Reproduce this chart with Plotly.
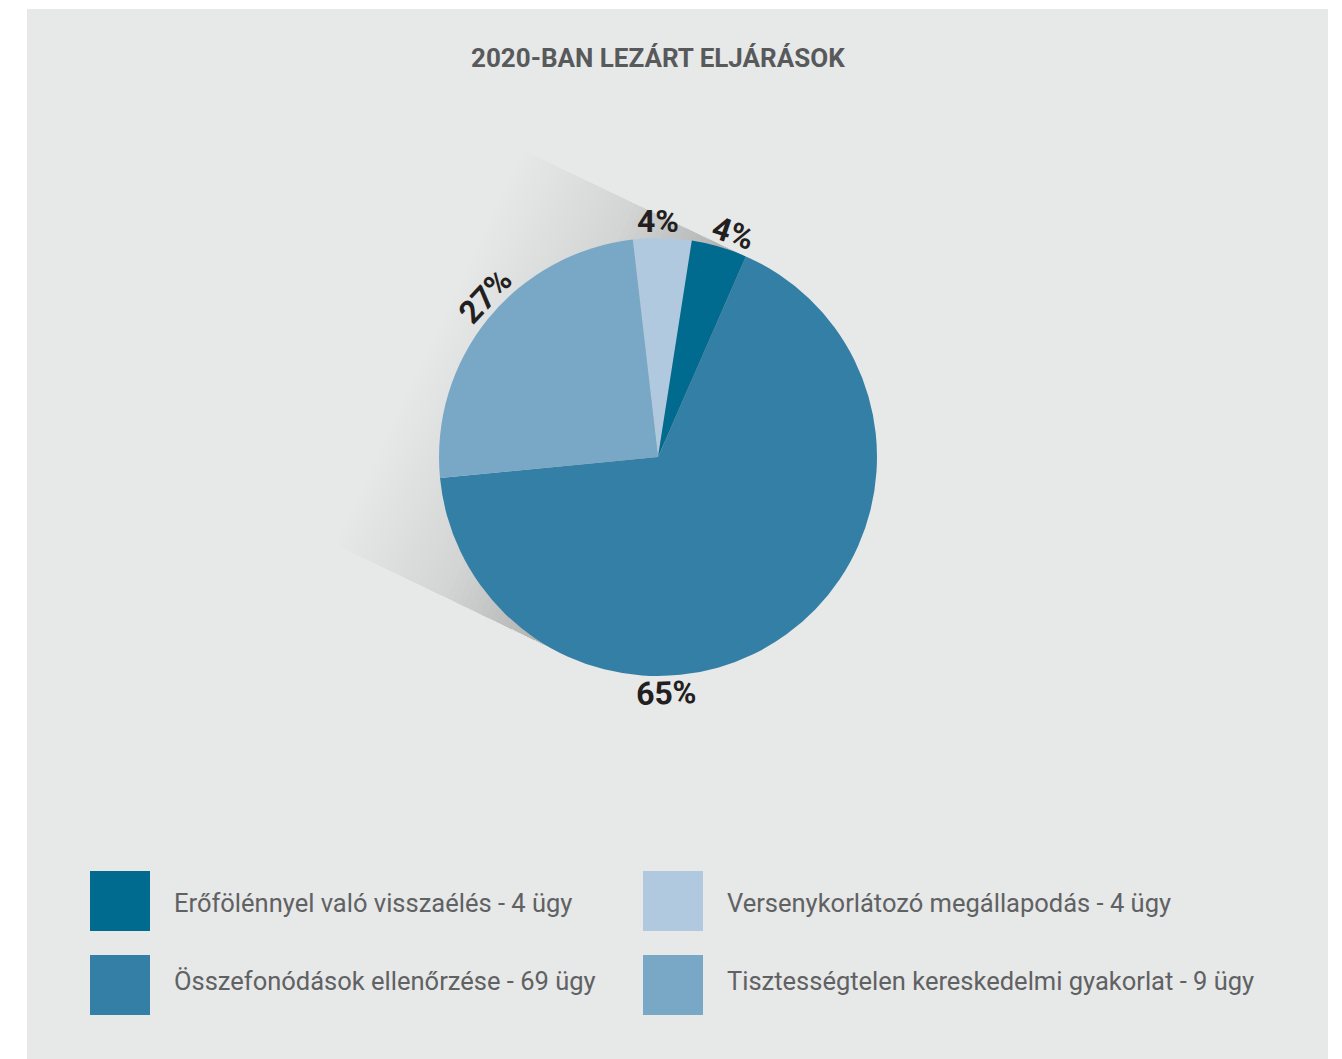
import math
import plotly.graph_objects as go

# ---------------- data ----------------
categories = ["Versenykorlátozó megállapodás", "Erőfölénnyel való visszaélés",
              "Összefonódások ellenőrzése", "Tisztességtelen kereskedelmi gyakorlat"]
slice_share = [4.3, 4.1, 66.9, 24.7]          # slice sizes as drawn (%)
pct_labels = ["4%", "4%", "65%", "27%"]        # printed percentages
case_counts = [4, 4, 69, 9]                    # cases per category
colors = ["#b1c9de", "#006a8f", "#347fa5", "#79a7c6"]
title_text = "2020-BAN LEZÁRT ELJÁRÁSOK"

W, H = 1342, 1059
OFF = 8                      # page body margin
cx, cy, r = 658, 457, 219    # pie centre / radius in page pixels
rotation = -6.6

fig = go.Figure()

# hidden pixel-space axes for decorations (page coordinates)
fig.add_trace(go.Scatter(x=[OFF, W + OFF], y=[OFF, H + OFF], mode="markers",
                         marker=dict(opacity=0), hoverinfo="skip", showlegend=False))

fig.add_trace(go.Pie(
    labels=categories, values=slice_share, sort=False, direction="clockwise",
    rotation=rotation, textinfo="none", hoverinfo="label+text",
    text=pct_labels, showlegend=False,
    marker=dict(colors=colors, line=dict(width=0)),
    domain=dict(x=[(cx - OFF - r) / W, (cx - OFF + r) / W],
                y=[(H - (cy - OFF) - r) / H, (H - (cy - OFF) + r) / H]),
))

shapes = []
# panel background
shapes.append(dict(type="rect", xref="x", yref="y", x0=27, x1=1328, y0=9, y1=H + OFF,
                   fillcolor="#e7e8e8", line=dict(width=0), layer="below"))

# cast shadow (stacked translucent bands -> fading gradient)
ang = math.radians(25.6)
dx, dy = -math.cos(ang), -math.sin(ang)
nx, ny = math.sin(ang), -math.cos(ang)
Ax, Ay = cx + r * nx, cy + r * ny
Bx, By = cx - r * nx, cy - r * ny
N = 50
L = 310
amax = 0.25
p = 1.9
for k in range(1, N + 1):
    Lk = L * k / N
    a_k = amax * ((1 - (k - 1) / N) ** p - (1 - k / N) ** p)
    path = (f"M {Ax},{Ay} L {Ax + Lk * dx},{Ay + Lk * dy} "
            f"L {Bx + Lk * dx},{By + Lk * dy} L {Bx},{By} Z")
    shapes.append(dict(type="path", xref="x", yref="y", path=path,
                       fillcolor=f"rgba(30,35,50,{a_k:.4f})",
                       line=dict(width=0), layer="below"))

# legend squares + texts
legend_order = [1, 2, 0, 3]
leg_x = [90, 90, 643, 643]
leg_y = [871, 955, 871, 955]
leg_text_y = [903, 981, 903, 981]
annotations = []
for pos, idx in enumerate(legend_order):
    shapes.append(dict(type="rect", xref="x", yref="y",
                       x0=leg_x[pos], x1=leg_x[pos] + 60,
                       y0=leg_y[pos], y1=leg_y[pos] + 60,
                       fillcolor=colors[idx], line=dict(width=0), layer="above"))
    annotations.append(dict(
        xref="x", yref="y", x=leg_x[pos] + 82, y=leg_text_y[pos],
        text=f"{categories[idx]} - {case_counts[idx]} ügy",
        showarrow=False, xanchor="left", yanchor="middle",
        font=dict(family="Roboto", size=25.5, color="#606163")))

# percentage labels around the pie (angle clockwise from 12 o'clock)
label_r = 236
label_pos_angle = [0.0, 18.5, 178.0, -47.0]
for i, v in enumerate(slice_share):
    a = label_pos_angle[i]
    tx = cx + label_r * math.sin(math.radians(a))
    ty = cy - label_r * math.cos(math.radians(a))
    ta = ((a + 180) % 360) - 180
    if ta > 90 or ta < -90:
        ta = ta - 180 if ta > 0 else ta + 180
    annotations.append(dict(
        xref="x", yref="y", x=tx, y=ty, text=f"<b>{pct_labels[i]}</b>",
        showarrow=False, xanchor="center", yanchor="middle", textangle=ta,
        font=dict(family="Roboto", size=32, color="#231f20")))

annotations.append(dict(
    xref="x", yref="y", x=658, y=58, text=f"<b>{title_text}</b>",
    showarrow=False, xanchor="center", yanchor="middle",
    font=dict(family="Roboto", size=26, color="#58595b")))

fig.update_layout(
    width=W, height=H, margin=dict(l=0, r=0, t=0, b=0),
    paper_bgcolor="white", plot_bgcolor="rgba(0,0,0,0)",
    xaxis=dict(range=[OFF, W + OFF], visible=False, domain=[0, 1], fixedrange=True),
    yaxis=dict(range=[H + OFF, OFF], visible=False, domain=[0, 1], fixedrange=True),
    shapes=shapes, annotations=annotations, showlegend=False,
)

fig.write_html("out.html")
